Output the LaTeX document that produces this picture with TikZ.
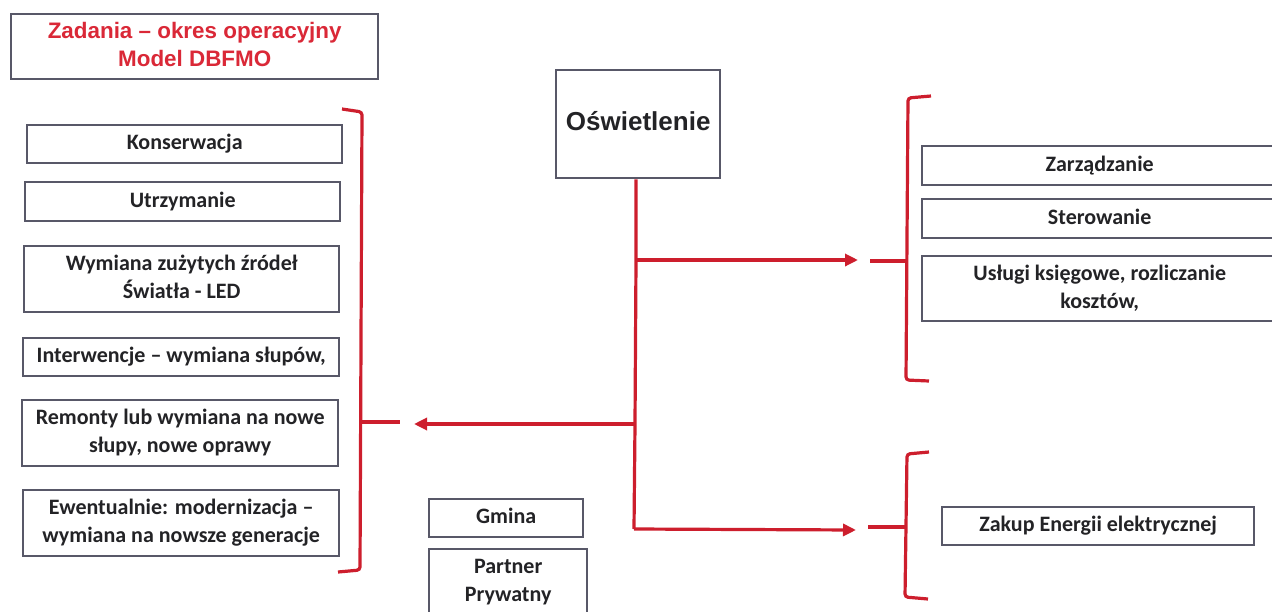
\documentclass[tikz,border=0pt]{standalone}
\usepackage{fontspec}
\setmainfont{Carlito}
\newfontfamily\headfont{Liberation Sans}
\definecolor{boxline}{RGB}{88,88,104}
\definecolor{linkred}{RGB}{205,30,45}
\definecolor{titlered}{RGB}{218,40,55}
\definecolor{inktext}{RGB}{35,35,38}
\usetikzlibrary{arrows.meta}
\tikzset{
  pbox/.style={draw=boxline,line width=2.4pt,fill=white,anchor=north west,inner sep=0pt,align=center,
    text=inktext,font=\fontsize{22}{28}\selectfont\bfseries},
  link/.style={draw=linkred,line width=3.2pt},
  linkarrow/.style={link,-{Triangle[length=13pt,width=12pt]}},
  brace/.style={draw=linkred,line width=3.2pt,rounded corners=3pt}
}
\newcommand{\pxbox}[7][]{\node[pbox,#1,minimum width=#4pt-#2pt,minimum height=#5pt-#3pt] (#6) at (#2,#3) {\raisebox{-1.5pt}{\begin{tabular}{@{}c@{}}#7\end{tabular}}};}
\begin{document}
\begin{tikzpicture}[x=1pt,y=-1pt]
\useasboundingbox (0,0) rectangle (1272,611);
\pxbox[text=titlered,font=\fontsize{22.4}{28}\selectfont\headfont\bfseries]{10}{13}{377}{78}{title}{Zadania – okres operacyjny\\Model DBFMO}
\pxbox{26}{124}{341}{162}{kons}{Konserwacja}
\pxbox{24}{181}{339}{220}{utrz}{Utrzymanie}
\pxbox{23}{245}{338}{311}{wym}{Wymiana zużytych źródeł\\Światła - LED}
\pxbox{22}{337}{338}{375}{inter}{Interwencje – wymiana słupów,}
\pxbox{21}{399}{337}{465}{rem}{Remonty lub wymiana na nowe\\słupy, nowe oprawy}
\pxbox{22}{489}{338}{555}{ewe}{Ewentualnie: modernizacja –\\wymiana na nowsze generacje}
\pxbox{428}{498}{582}{536}{gmina}{Gmina}
\pxbox{428}{548}{586}{614}{partner}{Partner\\Prywatny}
\pxbox[font=\fontsize{26}{30}\selectfont\headfont\bfseries]{555}{69}{719}{177}{osw}{Oświetlenie}
\pxbox{921}{145}{1276}{184}{zarz}{Zarządzanie}
\pxbox{921}{198}{1276}{237}{ster}{Sterowanie}
\pxbox{921}{255}{1276}{320}{uslugi}{Usługi księgowe, rozliczanie\\kosztów,}
\pxbox{941}{506}{1253}{544}{zakup}{Zakup Energii elektrycznej}
% junctions and free ends
\coordinate (j1) at (636,260);
\coordinate (j2) at (635,424);
\coordinate (j3) at (634,529);
\coordinate (endR1) at (858,260);
\coordinate (endL) at (414,424);
\coordinate (endR2) at (856,530);
\coordinate (tickL) at (400,422);
\coordinate (tickLb) at (362,422);
\coordinate (tickR1) at (870,261);
\coordinate (tickR1b) at (906,261);
\coordinate (tickR2) at (868,527);
\coordinate (tickR2b) at (905,527);
\draw[link] (osw.south -| j1) -- (j1) -- (j2) -- (j3);
\draw[linkarrow] (j1) -- (endR1);
\draw[linkarrow] (j2) -- (endL);
\draw[linkarrow] (j3) -- (endR2);
% braces
\draw[brace] (342,109) -- (362,112) -- (360,570) -- (338,572);
\draw[link] (tickLb) -- (tickL);
\draw[brace] (931,96) -- (908,98) -- (906,380) -- (929,381);
\draw[link] (tickR1) -- (tickR1b);
\draw[brace] (929,452) -- (907,454) -- (905,597) -- (928,599);
\draw[link] (tickR2) -- (tickR2b);
\end{tikzpicture}
\end{document}
